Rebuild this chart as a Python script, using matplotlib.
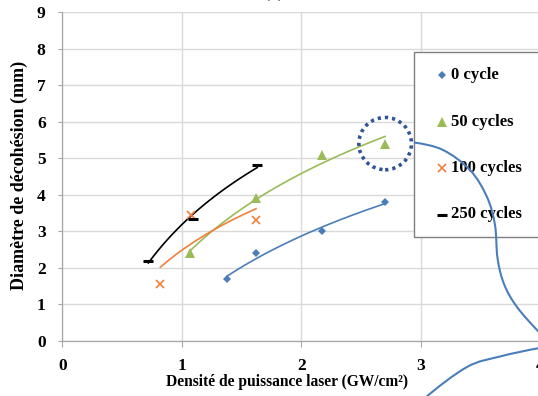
import numpy as np
import matplotlib
matplotlib.use("Agg")
import matplotlib.pyplot as plt
from matplotlib.patches import Ellipse, Rectangle, PathPatch
from matplotlib.path import Path
from matplotlib.lines import Line2D

# laser power density (GW/cm2) vs decohesion diameter (mm)
x_0 = [1.38, 1.62, 2.17, 2.70]
y_0 = [1.70, 2.40, 3.00, 3.80]
x_50 = [1.07, 1.62, 2.17, 2.70]
y_50 = [2.40, 3.90, 5.10, 5.40]
x_100 = [0.82, 1.08, 1.62]
y_100 = [1.55, 3.45, 3.30]
x_250 = [0.72, 1.09, 1.63]
y_250 = [2.20, 3.33, 4.81]

labels = ["0 cycle", "50 cycles", "100 cycles", "250 cycles"]
xticks = [0, 1, 2, 3, 4]
yticks = list(range(10))

W, H = 538, 396
FONT = "Liberation Serif"

series = [
    (x_0, y_0, "#4A7EBB", dict(marker="D", ms=4.2, mew=0)),
    (x_50, y_50, "#9BBB59", dict(marker="^", ms=6.5, mew=0)),
    (x_100, y_100, "#F0803C", dict(marker="x", ms=6, mew=1.2)),
    (x_250, y_250, "black", dict(marker="_", ms=7, mew=2.2)),
]

fig = plt.figure(figsize=(W / 100, H / 100), dpi=100)


def px(x, y):
    # top-left pixel position -> figure fraction
    return x / W, (H - y) / H


ax = fig.add_axes([62.3 / W, (H - 341) / H, 478.3 / W, 329 / H])
ax.set_xlim(0, 4)
ax.set_ylim(0, 9)
ax.set_xticks(xticks)
ax.set_yticks(yticks)
ax.grid(True, color="#D9D9D9", lw=1.0)
ax.set_axisbelow(True)
for s in ["top", "right"]:
    ax.spines[s].set_visible(False)
for s in ["left", "bottom"]:
    ax.spines[s].set_color("#A6A6A6")
    ax.spines[s].set_linewidth(0.9)
ax.tick_params(axis="y", direction="out", length=3, color="#A6A6A6", pad=9)
ax.tick_params(axis="x", direction="out", length=4, color="#A6A6A6", pad=8)
for lab in ax.get_xticklabels() + ax.get_yticklabels():
    lab.set_fontfamily(FONT)
    lab.set_fontweight("bold")
    lab.set_fontsize(12.5)

# points + logarithmic trend lines
for xs, ys, c, mk in series:
    xs_a, ys_a = np.array(xs), np.array(ys)
    a, b = np.polyfit(np.log(xs_a), ys_a, 1)
    xf = np.linspace(xs_a.min(), xs_a.max(), 100)
    ax.plot(xf, a * np.log(xf) + b, color=c, lw=1.2, zorder=3)
    ax.plot(xs_a, ys_a, ls="none", color=c, zorder=4, **mk)

# dotted highlight around the last 50-cycle point
ax.add_patch(Ellipse((x_50[-1], y_50[-1]), 0.44, 1.43, fill=False,
                     ec="#2F5597", lw=2.6, ls=(0, (0.9, 1.1)), zorder=5,
                     clip_on=False))

ax.set_xlabel("Densité de puissance laser (GW/cm²)", fontfamily=FONT,
              fontweight="bold", fontsize=11.2, va="center", ha="center")
ax.xaxis.set_label_coords(0.47, -0.1246)
ax.set_ylabel("Diamètre de décohésion (mm)", fontfamily=FONT,
              fontweight="bold", fontsize=13, va="center", ha="center")
ax.yaxis.set_label_coords(-0.089, 0.5046)

# legend box, drawn by hand so it runs off the right edge
x0, y0 = px(414, 237)
x1, y1 = px(560, 52)
fig.add_artist(Rectangle((x0, y0), x1 - x0, y1 - y0, transform=fig.transFigure,
                         fc="white", ec="#7F7F7F", lw=1.0, zorder=6))
for i, ((xs, ys, c, mk), lab) in enumerate(zip(series, labels)):
    ly = [75, 121.5, 168, 214.5][i]
    mx, my = px(442, ly)
    fig.add_artist(Line2D([mx], [my], transform=fig.transFigure, color=c,
                          zorder=7, **mk))
    tx, ty = px(451, ly)
    fig.text(tx, ty, lab, fontfamily=FONT, fontweight="bold", fontsize=12,
             va="center", ha="left", zorder=7)


# callout curves: Catmull-Rom through guide points, as cubic Beziers
def smooth(pts, lead, tail):
    p = np.array([px(*q) for q in [lead] + pts + [tail]])
    verts = [p[1]]
    codes = [Path.MOVETO]
    for i in range(1, len(p) - 2):
        c1 = p[i] + (p[i + 1] - p[i - 1]) / 6
        c2 = p[i + 1] - (p[i + 2] - p[i]) / 6
        verts += [c1, c2, p[i + 1]]
        codes += [Path.CURVE4] * 3
    return Path(verts, codes)


curve1 = smooth([(414, 142.5), (443, 150), (470, 170), (487, 197),
                 (495, 225), (497.5, 258), (504, 284), (517, 307), (540, 333)],
                lead=(385, 141), tail=(560, 350))
curve2 = smooth([(425, 398), (467, 367), (500, 356.5), (540, 348)],
                lead=(400, 425), tail=(570, 345))
for pth in (curve1, curve2):
    fig.add_artist(PathPatch(pth, transform=fig.transFigure, fill=False,
                             ec="#4A7EBB", lw=1.5, zorder=8))

# panel tag, mostly cut off at the top
tx, ty = px(274, -3)
fig.text(tx, ty, "(a)", fontfamily=FONT, fontweight="bold", fontsize=13,
         ha="center", va="baseline")

fig.savefig("out.png", dpi=100)
